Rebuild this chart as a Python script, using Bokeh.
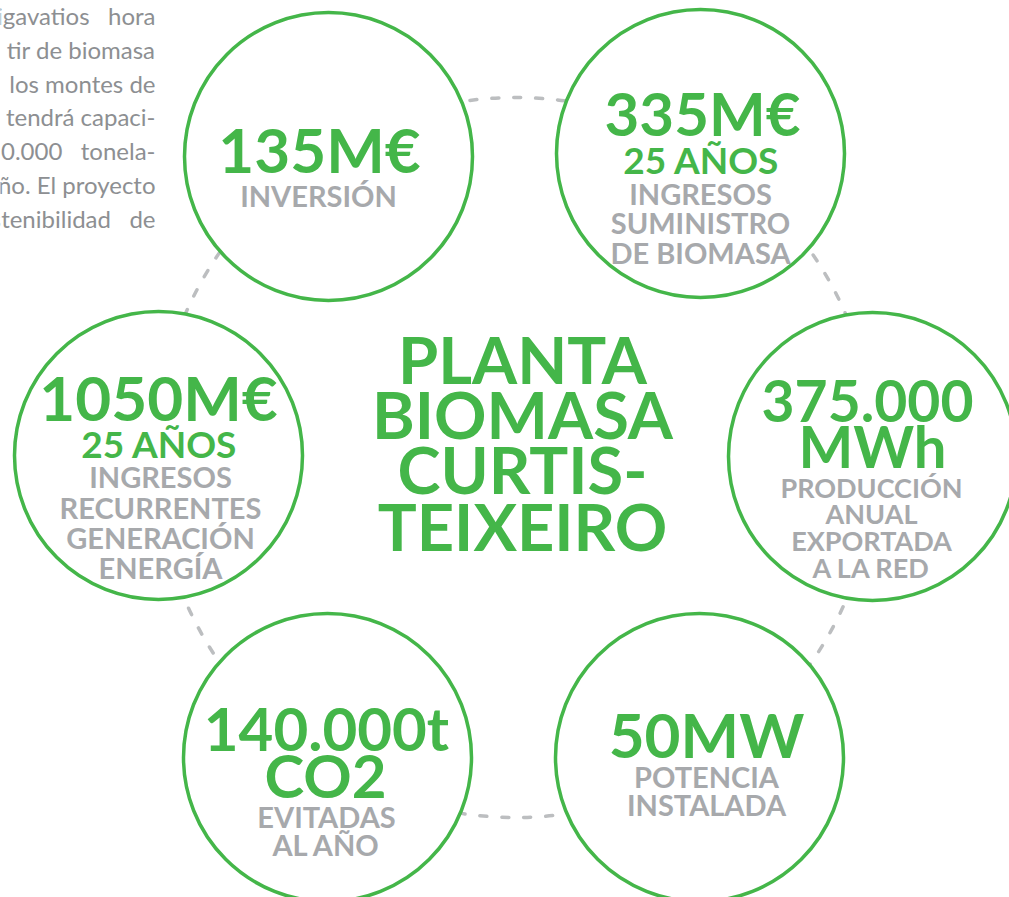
from bokeh.plotting import figure
from bokeh.models import Range1d
from bokeh.core.properties import value
from bokeh.embed import file_html
from bokeh.resources import INLINE

NB = "\u00a0"

# ---------------- data ----------------
title_lines = ["PLANTA", "BIOMASA", "CURTIS-", "TEIXEIRO"]
values = ["135M€", "335M€", "1050M€", "375.000", "140.000t", "50MW"]
sub_values = ["", "25 AÑOS", "25 AÑOS", "MWh", "CO2", ""]
labels = [
    ["INVERSIÓN"],
    ["INGRESOS", "SUMINISTRO", "DE BIOMASA"],
    ["INGRESOS", "RECURRENTES", "GENERACIÓN", "ENERGÍA"],
    ["PRODUCCIÓN", "ANUAL", "EXPORTADA", "A LA RED"],
    ["EVITADAS", "AL AÑO"],
    ["POTENCIA", "INSTALADA"],
]
paragraph = ["igavatios" + NB * 3 + "hora", "tir de biomasa", "los montes de",
             "tendrá capaci-", "0.000" + NB * 3 + "tonela-", "ño. El proyecto",
             "stenibilidad" + NB * 3 + "de"]

# ---------------- layout (page pixels) ----------------
W, H = 1009, 897
centers_x = [328, 700, 158, 872, 327, 699]
centers_y = [156, 153, 455, 456, 757, 757]
R = 144
value_pos = [(319, 172, 62), (702, 135, 60), (158, 420, 62),
             (867, 422, 57), (326, 750, 60), (706, 757, 62)]
sub_pos = [None, (701, 173, 37), (159, 457, 37), (872, 467, 58),
           (325, 797, 60), None]
label_pos = [(318, [206], 29), (700, [204, 233, 263], 29),
             (160, [487, 518, 548, 578], 29),
             (871, [497, 523, 550, 577], 27),
             (326, [827, 855], 29), (706, [787, 815], 29)]
title_x, title_y, title_size = 522, [383, 438, 493, 550], 65
para_x, para_y = 155, [24, 58, 92, 125, 159, 193, 227]
BASE = 0.38  # baseline correction (fraction of font size)

GREEN = "#44b649"
GRAY = "#a7a9ac"
FONT = value("Lato")

p = figure(width=W, height=H, x_range=Range1d(0, W),
           y_range=Range1d(H, 0), output_backend="svg",
           toolbar_location=None, min_border=0,
           x_axis_location=None, y_axis_location=None)
p.grid.visible = False
p.outline_line_color = None
p.background_fill_color = "white"
p.border_fill_color = "white"

# dashed ring linking the circles
p.circle(x=[515], y=[457], radius=360, fill_color=None,
         line_color="#bcbec0", line_width=3.5, line_dash="7 15",
         line_cap="round")

# white circles with green outline
p.circle(x=centers_x, y=centers_y, radius=R, fill_color="white",
         line_color=GREEN, line_width=3.5)


def put(xs, ys, texts, size, color, bold=True, align="center"):
    p.text(x=xs, y=[y - BASE * size for y in ys], text=texts,
           text_font=FONT, text_font_style="bold" if bold else "normal",
           text_font_size=f"{size}px", text_color=color,
           text_align=align, text_baseline="alphabetic")


# paragraph text (cut at left edge, as in the source page)
put([para_x] * len(paragraph), para_y, paragraph, 24, "#8d8f92",
    bold=False, align="right")

# center title
put([title_x] * 4, title_y, title_lines, title_size, GREEN)

for v, (x, y, s) in zip(values, value_pos):
    put([x], [y], [v], s, GREEN)

for sv, pos in zip(sub_values, sub_pos):
    if pos is None or not sv:
        continue
    x, y, s = pos
    put([x], [y], [sv], s, GREEN)

for lab, (x, ys, s) in zip(labels, label_pos):
    put([x] * len(lab), ys, lab, s, GRAY)

open("out.html", "w").write(file_html(p, INLINE))
